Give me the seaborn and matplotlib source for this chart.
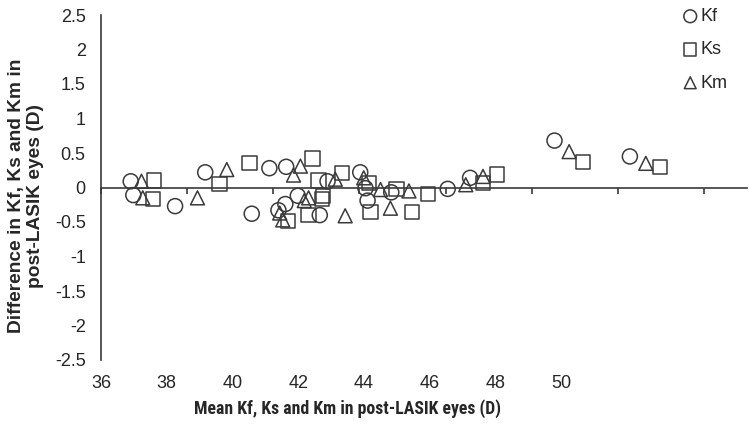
import matplotlib
matplotlib.use("Agg")
import matplotlib.pyplot as plt
from matplotlib import font_manager
from matplotlib.ticker import MultipleLocator, FuncFormatter
import seaborn as sns
import pandas as pd

# values (mean keratometry vs difference, D)
kf_x = [36.69, 36.75, 37.72, 38.42, 39.50, 39.91, 40.30, 40.28, 40.12, 40.57,
        41.26, 42.02, 42.14, 42.74, 42.19, 41.08, 44.05, 44.57, 46.53, 48.28]
kf_y = [0.09, -0.11, -0.27, 0.22, -0.38, 0.28, 0.30, -0.24, -0.33, -0.12,
        0.09, 0.22, -0.01, -0.07, -0.19, -0.40, -0.02, 0.14, 0.68, 0.45]

ks_x = [37.23, 37.20, 38.75, 39.45, 40.34, 40.91, 41.05, 41.60, 42.22, 42.86,
        43.60, 42.26, 43.22, 40.82, 41.13, 41.16, 44.87, 45.20, 47.19, 48.98]
ks_y = [0.10, -0.17, 0.05, 0.35, -0.49, 0.42, 0.10, 0.21, 0.07, -0.02,
        -0.09, -0.35, -0.35, -0.40, -0.17, -0.12, 0.07, 0.19, 0.37, 0.30]

km_x = [36.94, 36.97, 38.24, 38.92, 40.47, 40.15, 40.22, 40.63, 41.44, 42.10,
        42.49, 43.15, 42.72, 41.67, 40.82, 40.72, 44.47, 44.87, 46.87, 48.65]
km_y = [0.09, -0.15, -0.15, 0.26, 0.18, -0.37, -0.47, 0.31, 0.12, 0.14,
        -0.03, -0.05, -0.30, -0.41, -0.15, -0.19, 0.04, 0.16, 0.52, 0.35]

x_ticks = [36, 38, 40, 42, 44, 46, 48, 50]

df = pd.concat([
    pd.DataFrame({"mean": kf_x, "diff": kf_y, "param": "Kf"}),
    pd.DataFrame({"mean": ks_x, "diff": ks_y, "param": "Ks"}),
    pd.DataFrame({"mean": km_x, "diff": km_y, "param": "Km"}),
])

sns.set_style("white")
plt.rcParams["font.family"] = ["Liberation Sans", "DejaVu Sans"]
plt.rcParams["axes.unicode_minus"] = False

# a narrow face suits the squeezed x title, if one is around
names = {f.name for f in font_manager.fontManager.ttflist}
narrow = [n for n in ["Liberation Sans Narrow", "Arial Narrow", "Roboto Condensed",
                      "Open Sans Condensed"] if n in names]
if narrow:
    xlab_font = {"family": [narrow[0], "DejaVu Sans"], "size": 12.8}
else:
    xlab_font = {"family": ["Liberation Sans", "DejaVu Sans"], "size": 11.5}

ink = "#262626"
line = "#3a3a3a"

fig = plt.figure(figsize=(7.54, 4.30), dpi=100)
ax = fig.add_axes([101 / 754, 1 - 360 / 430, 646 / 754, 345 / 430])

styles = {"Kf": ("o", 117), "Ks": ("s", 105), "Km": ("^", 100)}
for name, (mk, sz) in styles.items():
    sub = df[df["param"] == name]
    sns.scatterplot(data=sub, x="mean", y="diff", marker=mk, s=sz,
                    facecolor="none", edgecolor=line, linewidth=1.1,
                    label=name, legend=False, ax=ax, zorder=3)

ax.set_xlim(36, 51)
ax.set_ylim(-2.5, 2.5)
ax.yaxis.set_major_locator(MultipleLocator(0.5))
ax.yaxis.set_major_formatter(FuncFormatter(lambda v, p: f"{v:g}"))
ax.set_xticks(x_ticks)

for s in ["top", "right"]:
    ax.spines[s].set_visible(False)
ax.spines["bottom"].set_position(("data", 0))
ax.spines["bottom"].set_color(line)
ax.spines["left"].set_color(line)
ax.spines["bottom"].set_linewidth(1.2)
ax.spines["left"].set_linewidth(1.2)

ax.tick_params(axis="x", direction="out", length=4, width=1.2, color=line,
               labelbottom=False)
ax.tick_params(axis="y", direction="out", length=4, width=1.2, color=line,
               pad=7, labelsize=13, labelcolor=ink)
ax.set_xlabel("")
ax.set_ylabel("Difference in Kf, Ks and Km in\npost-LASIK eyes (D)",
              fontsize=13.8, fontweight="bold", color=ink, linespacing=1.1)
ax.yaxis.set_label_coords(-0.089, 0.475)

# tick labels row sits lower and narrower than the tick marks in the reference
ax2 = ax.twiny()
ax2.set_xlim(36, 36 + 646 / 32.86)
ax2.set_xticks(x_ticks)
ax2.xaxis.set_ticks_position("bottom")
ax2.xaxis.set_label_position("bottom")
for s in ax2.spines.values():
    s.set_visible(False)
ax2.tick_params(axis="x", length=0, pad=10.5, labelsize=13, labelcolor=ink)
ax2.set_xlabel("Mean Kf, Ks and Km in post-LASIK eyes (D)",
               fontweight="bold", color=ink, **xlab_font)
ax2.xaxis.set_label_coords(0.381, -0.114)

ax.legend(loc="upper left", bbox_to_anchor=(683 / 754, 1 - 8 / 430),
          bbox_transform=fig.transFigure, frameon=False, fontsize=13,
          handlelength=0.8, handletextpad=0.15, labelspacing=0.9,
          borderpad=0, borderaxespad=0, labelcolor=ink, markerscale=0.85)

fig.savefig("out.png", dpi=100)
